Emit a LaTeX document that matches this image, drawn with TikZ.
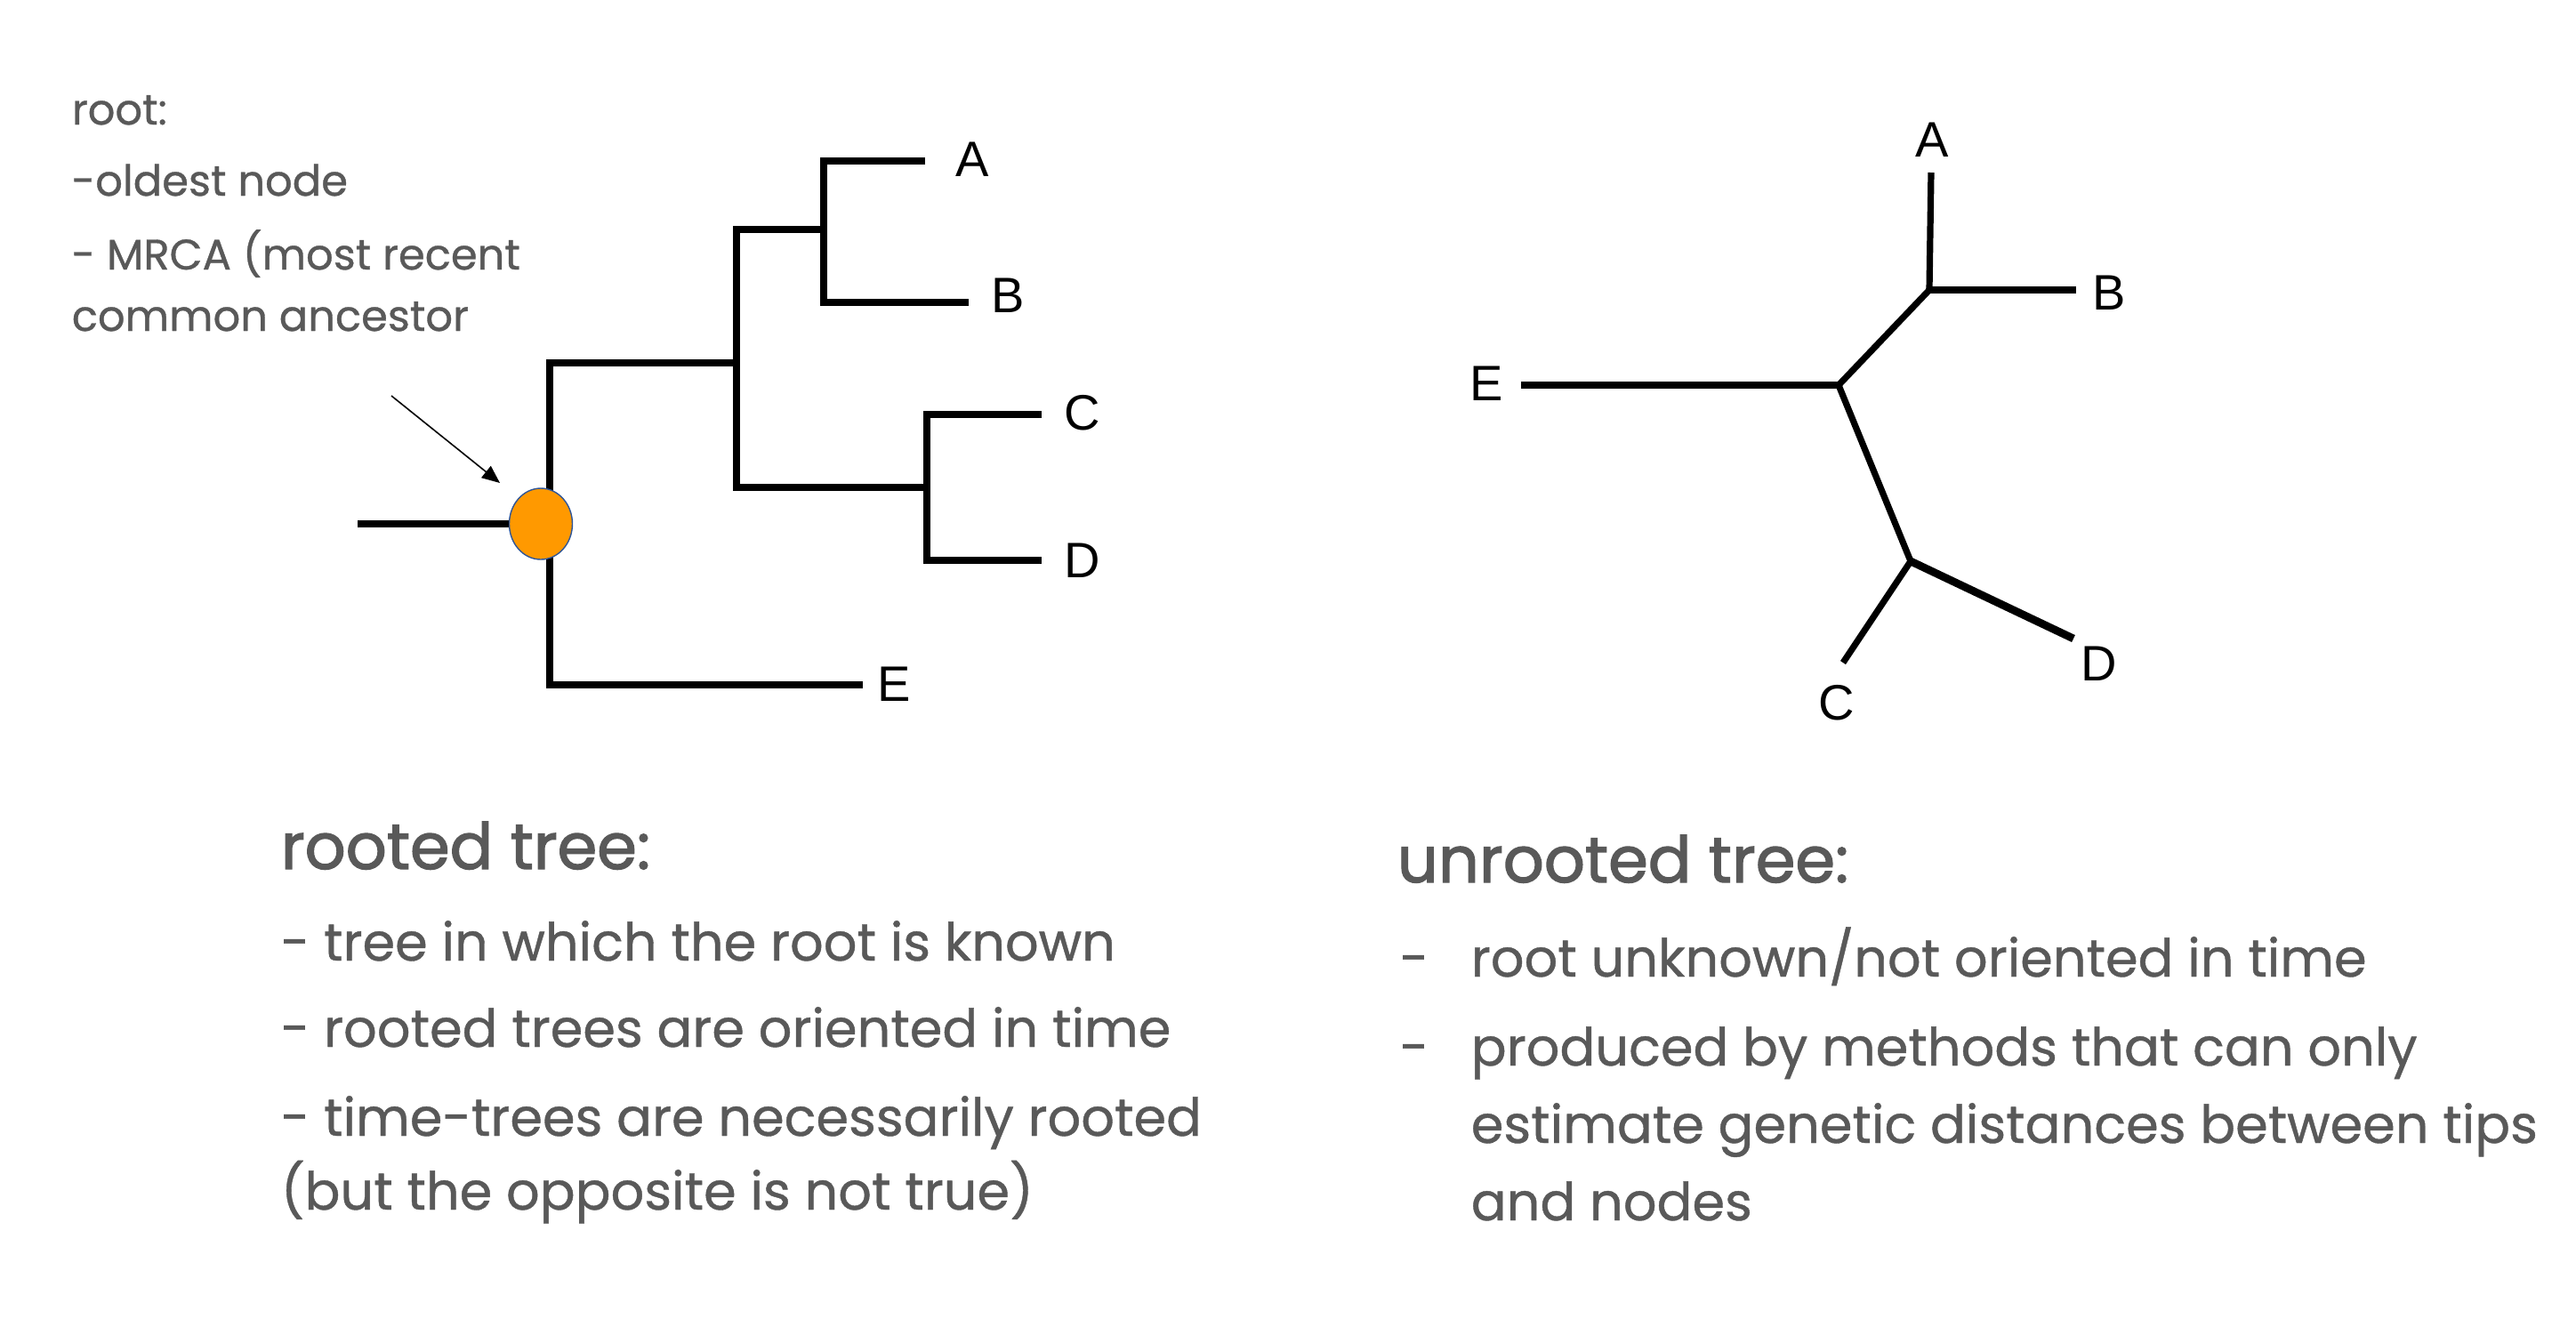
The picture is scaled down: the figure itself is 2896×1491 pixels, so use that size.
\documentclass[tikz,border=0pt]{standalone}
\usepackage{fontspec}
\setmainfont[FakeBold=0.7]{Poppins}
\newfontfamily\labfont{Liberation Sans}
\newfontfamily\headfont[FakeBold=1.8]{Poppins}
\usetikzlibrary{shapes.geometric,arrows.meta}
\definecolor{txt}{HTML}{595959}
\definecolor{orng}{HTML}{FF9900}
\definecolor{rim}{HTML}{2F5597}
\begin{document}
\begin{tikzpicture}[x=0.25pt,y=-0.25pt,
  branch/.style={line width=2.2pt,line cap=butt,line join=miter},
  ubranch/.style={line width=1.8pt,line cap=butt},
  tip/.style={font=\labfont\fontsize{14}{16}\selectfont,inner sep=0},
  note/.style={anchor=base west,inner sep=0,text=txt,font=\fontsize{12}{14}\selectfont},
  bullet/.style={anchor=base west,inner sep=0,text=txt,font=\fontsize{14.75}{17}\selectfont},
  head/.style={anchor=base west,inner sep=0,text=txt,font=\headfont\fontsize{18}{21}\selectfont}]
\path[use as bounding box,fill=white] (0,0) rectangle (2896,1491);

% ---------- rooted tree ----------
\coordinate (stem) at (402,589);
\coordinate (v1t) at (618,408);
\coordinate (v1b) at (618,770);
\coordinate (v2t) at (828,258);
\coordinate (v2b) at (828,548);
\coordinate (v3t) at (926,181);
\coordinate (v3b) at (926,340);
\coordinate (v4t) at (1042,466);
\coordinate (v4b) at (1042,630);
\coordinate (endA) at (1040,181);
\coordinate (endB) at (1089,340);
\coordinate (endC) at (1171,466);
\coordinate (endD) at (1171,630);
\coordinate (endE) at (970,770);

\draw[branch] (endE) -- (v1b) -- (v1t) -- (v2t |- v1t);
\draw[branch] (v3t |- v2t) -- (v2t) -- (v2b) -- (v4t |- v2b);
\draw[branch] (endA) -- (v3t) -- (v3b) -- (endB);
\draw[branch] (endC) -- (v4t) -- (v4b) -- (endD);

\node[ellipse,draw=rim,line width=0.35pt,fill=orng,minimum width=17.75pt,
      minimum height=20pt,inner sep=0] (root) at (608,589) {};
\draw[branch] (stem) -- (root.west);

\coordinate (arrS) at (440,445);
\coordinate (arrT) at (562,543);
\draw[line width=0.4pt,-{Triangle[length=5pt,width=4.2pt]}] (arrS) -- (arrT);

\node[tip] (rA) at (1093,179) {A};
\node[tip] (rB) at (1133,332) {B};
\node[tip] (rC) at (1217,464) {C};
\node[tip] (rD) at (1217,630) {D};
\node[tip] (rE) at (1005,769) {E};

% ---------- unrooted tree ----------
\coordinate (u1) at (2169,326);
\coordinate (u2) at (2067,433);
\coordinate (u3) at (2148,631);
\coordinate (uA) at (2171,194);
\coordinate (uB) at (2334,326);
\coordinate (uC) at (2072,745);
\coordinate (uD) at (2331,718);
\coordinate (uE) at (1710,433);

\draw[ubranch] (uA) -- (u1);
\draw[branch] (u1) -- (uB);
\draw[ubranch] (u1) -- (u2);
\draw[branch] (uE) -- (u2);
\draw[ubranch] (u2) -- (u3);
\draw[ubranch] (u3) -- (uC);
\draw[branch] (u3) -- (uD);

\node[tip] (nA) at (2172,157) {A};
\node[tip] (nB) at (2371,329) {B};
\node[tip] (nC) at (2065,790) {C};
\node[tip] (nD) at (2360,746) {D};
\node[tip] (nE) at (1671,431) {E};

% ---------- texts ----------
\node[note] (t1) at (80,140) {root:};
\node[note] (t2) at (80,220) {-oldest node};
\node[note] (t3) at (80,303) {- MRCA (most recent};
\node[note] (t4) at (80,372) {common ancestor};

\node[head] (h1) at (315,977) {rooted tree:};
\node[bullet] (b1) at (315,1080) {- tree in which the root is known};
\node[bullet] (b2) at (315,1177) {- rooted trees are oriented in time};
\node[bullet] (b3) at (315,1277) {- time-trees are necessarily rooted};
\node[bullet] (b4) at (315,1360) {(but the opposite is not true)};

\node[head] (h2) at (1570,992) {unrooted tree:};
\node[bullet] (d1) at (1573,1098) {-};
\node[bullet] (d2) at (1573,1198) {-};
\node[bullet] (c1) at (1653,1098) {root unknown/not oriented in time};
\node[bullet] (c2) at (1653,1198) {produced by methods that can only};
\node[bullet] (c3) at (1653,1285) {estimate genetic distances between tips};
\node[bullet] (c4) at (1653,1372) {and nodes};
\end{tikzpicture}
\end{document}
